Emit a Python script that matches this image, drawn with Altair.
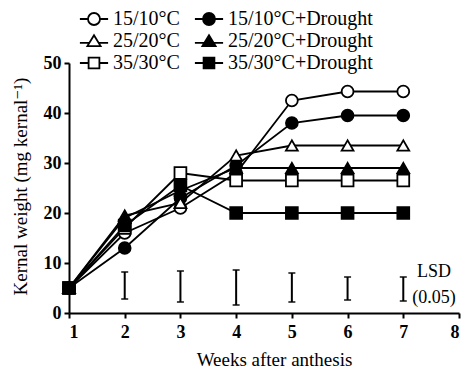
import altair as alt
import pandas as pd

weeks = [1, 2, 3, 4, 5, 6, 7]
series_names = ["15/10°C", "15/10°C+Drought", "25/20°C", "25/20°C+Drought", "35/30°C", "35/30°C+Drought"]
legend_order = ["15/10°C", "25/20°C", "35/30°C", "15/10°C+Drought", "25/20°C+Drought", "35/30°C+Drought"]
s15 = [5, 16, 21, 28, 42.5, 44.3, 44.3]
s15d = [5, 13, 23, 29.5, 38, 39.5, 39.5]
s25 = [5, 19.5, 22, 31.5, 33.5, 33.5, 33.5]
s25d = [5, 19, 24.5, 29, 29, 29, 29]
s35 = [5, 17, 28, 26.5, 26.5, 26.5, 26.5]
s35d = [5, 17.5, 25.5, 20, 20, 20, 20]
series_values = [s15, s15d, s25, s25d, s35, s35d]

lsd_weeks = [2, 3, 4, 5, 6, 7]
lsd_low = [2.8, 2.2, 1.6, 2.2, 2.6, 2.4]
lsd_high = [8.2, 8.4, 8.6, 8.0, 7.2, 7.2]

lsd_text = ["LSD", "(0.05)"]
lsd_text_x = [7.55, 7.55]
lsd_text_y = [8.3, 3.0]

fills = ["white", "black", "white", "black", "white", "black"]
legend_fills = ["white", "white", "white", "black", "black", "black"]
plot_shapes = ["circle", "circle", "triangle-up", "triangle-up", "square", "square"]
CIRC = "M-2.35,0H-1M1,0H2.35M-1,0A1,1,0,1,0,1,0A1,1,0,1,0,-1,0Z"
TRI = "M-2.35,0.3H-0.75M0.75,0.3H2.35M0,-0.95L1.1,0.85H-1.1Z"
SQR = "M-2.35,0H-0.9M0.9,0H2.35M-0.9,-0.9H0.9V0.9H-0.9Z"
legend_shapes = [CIRC, TRI, SQR, CIRC, TRI, SQR]

rows = []
for name, vals in zip(series_names, series_values):
    for w, v in zip(weeks, vals):
        rows.append({"week": w, "value": v, "series": name})
df = pd.DataFrame(rows)

lsd_df = pd.DataFrame({"week": lsd_weeks, "low": lsd_low, "high": lsd_high})
txt_df = pd.DataFrame({"x": lsd_text_x, "y": lsd_text_y, "t": lsd_text})

FONT = "Liberation Serif, Times New Roman, DejaVu Serif, serif"

xscale = alt.Scale(domain=[1, 8], nice=False)
yscale = alt.Scale(domain=[0, 50], nice=False)

x = alt.X("week:Q", scale=xscale,
          axis=alt.Axis(title="Weeks after anthesis", values=[1, 2, 3, 4, 5, 6, 7, 8], format="d",
                        labelPadding=5, titleX=205, titleY=46, titleAlign="center",
                        titleBaseline="middle"))
y = alt.Y("value:Q", scale=yscale,
          axis=alt.Axis(title="Kernal weight (mg kernal⁻¹)", values=[0, 10, 20, 30, 40, 50],
                        labelPadding=3, titleX=-49, titleY=123, titleAlign="center",
                        titleBaseline="middle", titleAngle=270))

base = alt.Chart(df)

lines = base.mark_line(color="black", strokeWidth=1.8).encode(x=x, y=y, detail="series:N")

points = base.mark_point(filled=True, stroke="black", strokeWidth=1.8, size=140, opacity=1).encode(
    x=x, y=y,
    shape=alt.Shape("series:N", scale=alt.Scale(domain=series_names, range=plot_shapes), legend=None),
    fill=alt.Fill("series:N", scale=alt.Scale(domain=series_names, range=fills), legend=None),
)

legend_layer = base.transform_filter("false").mark_point(
    filled=True, stroke="black", strokeWidth=1.8, size=144, opacity=1
).encode(
    x=x, y=y,
    shape=alt.Shape("series:N", scale=alt.Scale(domain=legend_order, range=legend_shapes),
                    legend=alt.Legend(title=None, orient="none", legendX=15, legendY=-54,
                                      columns=2, columnPadding=11, rowPadding=2,
                                      symbolSize=144, symbolStrokeWidth=1.8,
                                      labelOffset=9, labelFont=FONT, labelFontSize=20,
                                      labelColor="black", padding=0)),
    fill=alt.Fill("series:N", scale=alt.Scale(domain=legend_order, range=legend_fills)),
)

lsd_rule = alt.Chart(lsd_df).mark_rule(color="black", strokeWidth=2).encode(
    x=alt.X("week:Q", scale=xscale), y=alt.Y("low:Q", scale=yscale), y2="high:Q")
lsd_top = alt.Chart(lsd_df).mark_tick(color="black", orient="horizontal", size=7, thickness=2).encode(
    x=alt.X("week:Q", scale=xscale), y=alt.Y("high:Q", scale=yscale))
lsd_bot = alt.Chart(lsd_df).mark_tick(color="black", orient="horizontal", size=7, thickness=2).encode(
    x=alt.X("week:Q", scale=xscale), y=alt.Y("low:Q", scale=yscale))

lsd_label = alt.Chart(txt_df).mark_text(font=FONT, fontSize=18, color="black").encode(
    x=alt.X("x:Q", scale=xscale), y=alt.Y("y:Q", scale=yscale), text="t:N")

chart = alt.layer(lines, lsd_rule, lsd_top, lsd_bot, lsd_label, points, legend_layer).resolve_scale(
    shape="independent", fill="independent"
).properties(
    width=390, height=250,
    autosize=alt.AutoSizeParams(type="none"),
    padding={"left": 61, "top": 55, "right": 4, "bottom": 58},
).configure_view(stroke=None).configure_axis(
    domainColor="black", domainWidth=2, tickColor="black", tickWidth=2, tickSize=5,
    labelFont=FONT, labelFontWeight="bold", labelFontSize=18, labelColor="black",
    titleFont=FONT, titleFontWeight="normal", titleFontSize=19, titleColor="black",
    grid=False,
).configure_legend(labelFont=FONT).configure_text(font=FONT)

chart.save("out.html", embed_options={"renderer": "svg", "actions": False})
